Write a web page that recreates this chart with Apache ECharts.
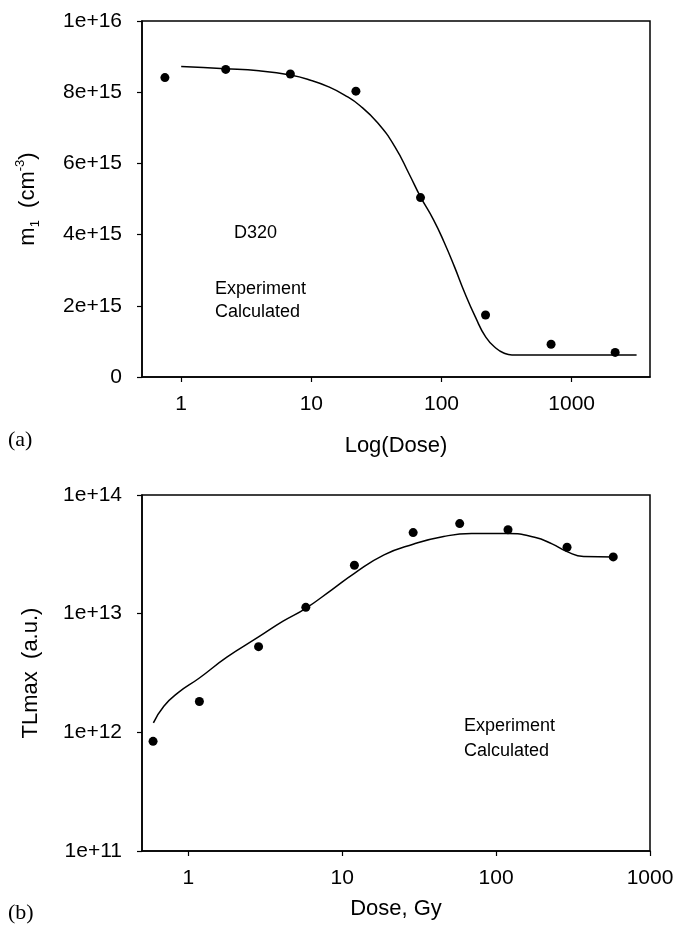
<!DOCTYPE html>
<html>
<head>
<meta charset="utf-8">
<script src="https://cdn.jsdelivr.net/npm/echarts@6/dist/echarts.min.js"></script>
<style>
html,body{margin:0;padding:0;background:#fff;}
#chart{width:678px;height:926px;}
</style>
</head>
<body>
<div id="chart"></div>
<script>
// ---- Panel (a) data ----
var doseA = [0.75, 2.2, 6.9, 22, 69, 218, 695, 2160];
var m1Exp = [8.41e15, 8.64e15, 8.51e15, 8.03e15, 5.04e15, 1.74e15, 9.2e14, 6.9e14];
var calcDoseA = [1, 2.18, 3.96, 6.9, 10, 13.6, 18, 23.7, 32.3, 44, 56.3, 69, 86.7, 104.4, 125.7, 151, 182, 219, 264, 307, 348, 3155];
var m1Calc = [8.72e15, 8.66e15, 8.60e15, 8.48e15, 8.33e15, 8.15e15, 7.92e15, 7.62e15, 7.14e15, 6.46e15, 5.71e15, 5.06e15, 4.42e15, 3.80e15, 3.10e15, 2.36e15, 1.69e15, 1.12e15, 8.0e14, 6.6e14, 6.2e14, 6.2e14];
var xTicksA = [1, 10, 100, 1000];
var yTickLabelsA = ['0', '2e+15', '4e+15', '6e+15', '8e+15', '1e+16'];

// ---- Panel (b) data ----
var doseB = [0.59, 1.18, 2.86, 5.8, 12, 28.9, 58, 119.5, 289, 577];
var tlExp = [8.4e11, 1.82e12, 5.27e12, 1.13e13, 2.56e13, 4.82e13, 5.74e13, 5.1e13, 3.63e13, 3.01e13];
var calcDoseB = [0.593, 0.693, 0.855, 1.18, 1.78, 2.86, 4.1, 5.8, 8.55, 12.0, 18.7, 28.9, 45.6, 69.3, 119.5, 178, 231, 289, 370, 577];
var tlCalc = [1.2e12, 1.66e12, 2.15e12, 2.87e12, 4.3e12, 6.36e12, 8.6e12, 1.11e13, 1.59e13, 2.19e13, 3.13e13, 3.85e13, 4.47e13, 4.73e13, 4.73e13, 4.4e13, 3.87e13, 3.33e13, 3.03e13, 3.01e13];
var xTicksB = [1, 10, 100, 1000];
var yTicksB = [1e11, 1e12, 1e13, 1e14];
var yTickLabelsB = ['1e+11', '1e+12', '1e+13', '1e+14'];

function zip(xs, ys) { return xs.map(function (x, i) { return [x, ys[i]]; }); }

var SANS = '"Liberation Sans", Arial, sans-serif';
var SERIF = '"Liberation Serif", "Times New Roman", serif';
var BLACK = '#000';

var axisLineStyle = { show: true, lineStyle: { color: BLACK, width: 1.5 } };
var tickStyle = { show: true, inside: false, length: 5, lineStyle: { color: BLACK, width: 1.2 } };
var labelBase = { color: BLACK, fontFamily: SANS, fontSize: 21 };

var chart = echarts.init(document.getElementById('chart'), null, { renderer: 'canvas' });

var option = {
  backgroundColor: '#fff',
  animation: false,
  grid: [
    { left: 142, top: 21, right: 28, height: 356, show: true, borderColor: BLACK, borderWidth: 1.5, containLabel: false },
    { left: 142, top: 495, right: 28, height: 356, show: true, borderColor: BLACK, borderWidth: 1.5, containLabel: false }
  ],
  xAxis: [
    {
      gridIndex: 0, type: 'log', logBase: 10, min: 0.5, max: 4000,
      name: 'Log(Dose)', nameLocation: 'middle', nameGap: 58,
      nameTextStyle: { color: BLACK, fontFamily: SANS, fontSize: 22 },
      axisLine: axisLineStyle,
      axisTick: Object.assign({}, tickStyle, { customValues: xTicksA }),
      axisLabel: Object.assign({}, labelBase, { margin: 17, customValues: xTicksA, formatter: function (v) { return String(Math.round(v)); } }),
      splitLine: { show: false }, minorTick: { show: false }
    },
    {
      gridIndex: 1, type: 'log', logBase: 10, min: 0.5, max: 1000,
      name: 'Dose, Gy', nameLocation: 'middle', nameGap: 47,
      nameTextStyle: { color: BLACK, fontFamily: SANS, fontSize: 22 },
      axisLine: axisLineStyle,
      axisTick: Object.assign({}, tickStyle, { customValues: xTicksB }),
      axisLabel: Object.assign({}, labelBase, { margin: 17, customValues: xTicksB, formatter: function (v) { return String(Math.round(v)); } }),
      splitLine: { show: false }, minorTick: { show: false }
    }
  ],
  yAxis: [
    {
      gridIndex: 0, type: 'value', min: 0, max: 1e16, interval: 2e15,
      name: '{a|m}{s|1}{a|  (cm}{p|-3}{a|)}', nameLocation: 'middle', nameGap: 100, nameRotate: 90,
      nameTextStyle: {
        color: BLACK, fontFamily: SANS, fontSize: 22,
        rich: {
          a: { fontFamily: SANS, fontSize: 22, color: BLACK, lineHeight: 28, verticalAlign: 'middle' },
          s: { fontFamily: SANS, fontSize: 13, color: BLACK, lineHeight: 28, verticalAlign: 'bottom' },
          p: { fontFamily: SANS, fontSize: 13, color: BLACK, lineHeight: 28, verticalAlign: 'top' }
        }
      },
      axisLine: axisLineStyle,
      axisTick: tickStyle,
      axisLabel: Object.assign({}, labelBase, { margin: 20, formatter: function (v) { return yTickLabelsA[Math.round(v / 2e15)]; } }),
      splitLine: { show: false }
    },
    {
      gridIndex: 1, type: 'log', logBase: 10, min: 1e11, max: 1e14,
      name: 'TLmax  (a.u.)', nameLocation: 'middle', nameGap: 100, nameRotate: 90,
      nameTextStyle: { color: BLACK, fontFamily: SANS, fontSize: 22 },
      axisLine: axisLineStyle,
      axisTick: Object.assign({}, tickStyle, { customValues: yTicksB }),
      axisLabel: Object.assign({}, labelBase, {
        margin: 20, customValues: yTicksB,
        formatter: function (v) { var i = Math.round(Math.log10(v)) - 11; return yTickLabelsB[i]; }
      }),
      splitLine: { show: false }, minorTick: { show: false }
    }
  ],
  series: [
    {
      name: 'Calculated (a)', type: 'line', xAxisIndex: 0, yAxisIndex: 0,
      data: zip(calcDoseA, m1Calc), showSymbol: false, smooth: 0.5,
      lineStyle: { color: BLACK, width: 1.5 }, z: 2
    },
    {
      name: 'Experiment (a)', type: 'scatter', xAxisIndex: 0, yAxisIndex: 0,
      data: zip(doseA, m1Exp), symbol: 'circle', symbolSize: 9,
      itemStyle: { color: BLACK, opacity: 1 }, z: 3
    },
    {
      name: 'Calculated (b)', type: 'line', xAxisIndex: 1, yAxisIndex: 1,
      data: zip(calcDoseB, tlCalc), showSymbol: false, smooth: 0.5,
      lineStyle: { color: BLACK, width: 1.5 }, z: 2
    },
    {
      name: 'Experiment (b)', type: 'scatter', xAxisIndex: 1, yAxisIndex: 1,
      data: zip(doseB, tlExp), symbol: 'circle', symbolSize: 9,
      itemStyle: { color: BLACK, opacity: 1 }, z: 3
    }
  ],
  graphic: [
    { type: 'text', left: 234, top: 224, style: { text: 'D320', fill: BLACK, font: '18px ' + SANS } },
    { type: 'text', left: 215, top: 280, style: { text: 'Experiment', fill: BLACK, font: '18px ' + SANS } },
    { type: 'text', left: 215, top: 303, style: { text: 'Calculated', fill: BLACK, font: '18px ' + SANS } },
    { type: 'text', left: 464, top: 717, style: { text: 'Experiment', fill: BLACK, font: '18px ' + SANS } },
    { type: 'text', left: 464, top: 742, style: { text: 'Calculated', fill: BLACK, font: '18px ' + SANS } },
    { type: 'text', left: 8, top: 429, style: { text: '(a)', fill: BLACK, font: '22px ' + SERIF } },
    { type: 'text', left: 8, top: 902, style: { text: '(b)', fill: BLACK, font: '22px ' + SERIF } }
  ]
};
chart.setOption(option);
</script>
</body>
</html>
